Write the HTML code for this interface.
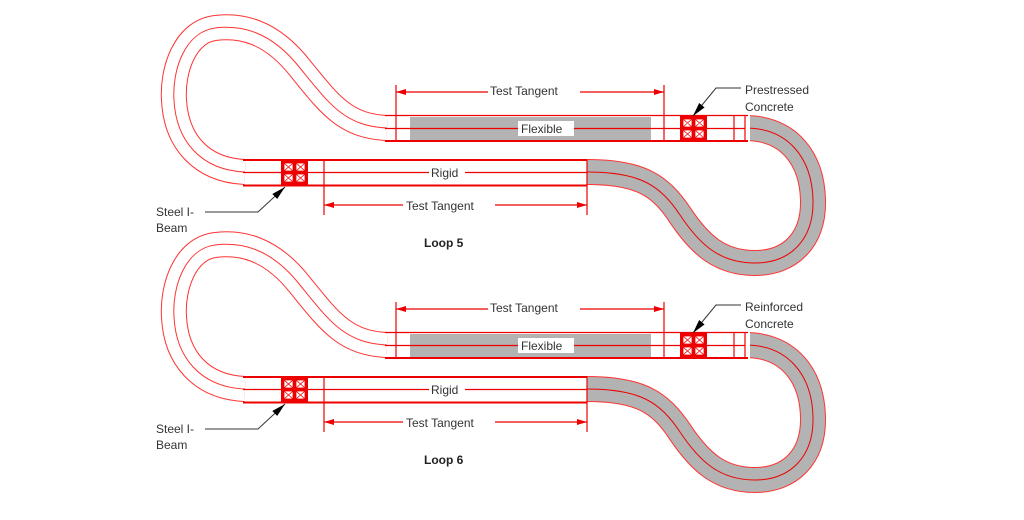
<!DOCTYPE html>
<html><head><style>
html,body{margin:0;padding:0;background:#fff;width:1024px;height:520px;overflow:hidden}
svg{display:block}
text{font-family:"Liberation Sans",sans-serif;font-size:12px;fill:#333}
</style></head><body>
<svg width="1024" height="520" viewBox="0 0 1024 520">
<defs>
<marker id="ar" viewBox="0 0 10 6" refX="10" refY="3" markerWidth="10" markerHeight="6" orient="auto-start-reverse" markerUnits="userSpaceOnUse"><path d="M0,0 L10,3 L0,6 z" fill="#e00"/></marker>
<marker id="ak" viewBox="0 0 12 6" refX="12" refY="3" markerWidth="14" markerHeight="7" orient="auto" markerUnits="userSpaceOnUse"><path d="M0,0 L12,3 L0,6 z" fill="#000"/></marker>
<g id="box">
<rect x="0" y="0" width="27" height="25" fill="#e00"/>
<g fill="#fff" stroke="#e00" stroke-width="0.8">
<rect x="3" y="3" width="9" height="8"/><rect x="15" y="3" width="9" height="8"/>
<rect x="3" y="14" width="9" height="8"/><rect x="15" y="14" width="9" height="8"/>
<path d="M3,3L12,11M12,3L3,11M15,3L24,11M24,3L15,11M3,14L12,22M12,14L3,22M15,14L24,22M24,14L15,22"/>
</g>
</g>
<g id="loop">
<!-- left loop -->
<path d="M387,128 C345,126 330,105 300,68 C270,30 240,25 215,28 C185,32 172,70 174,100 C176,140 200,170 245,172" fill="none" stroke="#f33" stroke-width="26"/>
<path d="M387,128 C345,126 330,105 300,68 C270,30 240,25 215,28 C185,32 172,70 174,100 C176,140 200,170 245,172" fill="none" stroke="#fff" stroke-width="24"/>
<path d="M387,128 C345,126 330,105 300,68 C270,30 240,25 215,28 C185,32 172,70 174,100 C176,140 200,170 245,172" fill="none" stroke="#f33" stroke-width="1"/>
<!-- right loop -->
<path d="M745,128 C790,128 812,160 813,200 C814,240 790,263 755,263 C720,263 700,245 680,215 C660,185 640,172 587,172" fill="none" stroke="#f33" stroke-width="26"/>
<path d="M745,128 C790,128 812,160 813,200 C814,240 790,263 755,263 C720,263 700,245 680,215 C660,185 640,172 587,172" fill="none" stroke="#b3b3b3" stroke-width="24"/>
<path d="M745,128 C790,128 812,160 813,200 C814,240 790,263 755,263 C720,263 700,245 680,215 C660,185 640,172 587,172" fill="none" stroke="#e00" stroke-width="1"/>
<rect x="742" y="112" width="8" height="33" fill="#fff"/>
<rect x="745" y="115" width="5" height="27" fill="#fff"/>
<!-- upper track -->
<rect x="410" y="117" width="241" height="23" fill="#b3b3b3"/>
<g stroke="#e00" stroke-width="1.2">
<line x1="385" y1="115.5" x2="748" y2="115.5"/>
<line x1="385" y1="128.5" x2="745" y2="128.5"/>
<line x1="385" y1="141" x2="748" y2="141" stroke-width="2"/>
<line x1="396" y1="85" x2="396" y2="141"/>
<line x1="664" y1="85" x2="664" y2="141"/>
<line x1="734" y1="115" x2="734" y2="141"/>
<line x1="745" y1="115" x2="745" y2="141"/>
<line x1="396" y1="92" x2="664" y2="92" marker-start="url(#ar)" marker-end="url(#ar)"/>
</g>
<use href="#box" x="680" y="116"/>
<rect x="518" y="121" width="56" height="15" fill="#fff"/>
<text x="521" y="133">Flexible</text>
<rect x="488" y="84" width="92" height="12" fill="#fff"/>
<text x="490" y="95">Test Tangent</text>
<!-- lower track -->
<g stroke="#e00" stroke-width="1.2">
<line x1="243" y1="160" x2="587" y2="160" stroke-width="2"/>
<line x1="243" y1="172.5" x2="587" y2="172.5"/>
<line x1="243" y1="185.5" x2="587" y2="185.5" stroke-width="2"/>
<line x1="324" y1="160" x2="324" y2="215"/>
<line x1="587" y1="160" x2="587" y2="215"/>
<line x1="324" y1="205" x2="587" y2="205" marker-start="url(#ar)" marker-end="url(#ar)"/>
</g>
<use href="#box" x="281" y="160"/>
<rect x="429" y="166" width="36" height="13" fill="#fff"/>
<text x="431" y="177">Rigid</text>
<rect x="403" y="198" width="92" height="13" fill="#fff"/>
<text x="406" y="210">Test Tangent</text>
<!-- steel leader -->
<path d="M205,212 L258,212 L285,187" fill="none" stroke="#333" stroke-width="1" marker-end="url(#ak)"/>
<text x="156" y="216">Steel I-</text>
<text x="156" y="232">Beam</text>
<!-- concrete leader -->
<path d="M741,88 L716,88 L693,116" fill="none" stroke="#333" stroke-width="1" marker-end="url(#ak)"/>
</g>
</defs>
<use href="#loop"/>
<use href="#loop" y="217"/>
<text x="745" y="94">Prestressed</text>
<text x="745" y="111">Concrete</text>
<text x="745" y="311">Reinforced</text>
<text x="745" y="328">Concrete</text>
<text x="424" y="247" style="font-weight:bold;font-size:12px;fill:#222">Loop 5</text>
<text x="424" y="464" style="font-weight:bold;font-size:12px;fill:#222">Loop 6</text>
</svg>
</body></html>
